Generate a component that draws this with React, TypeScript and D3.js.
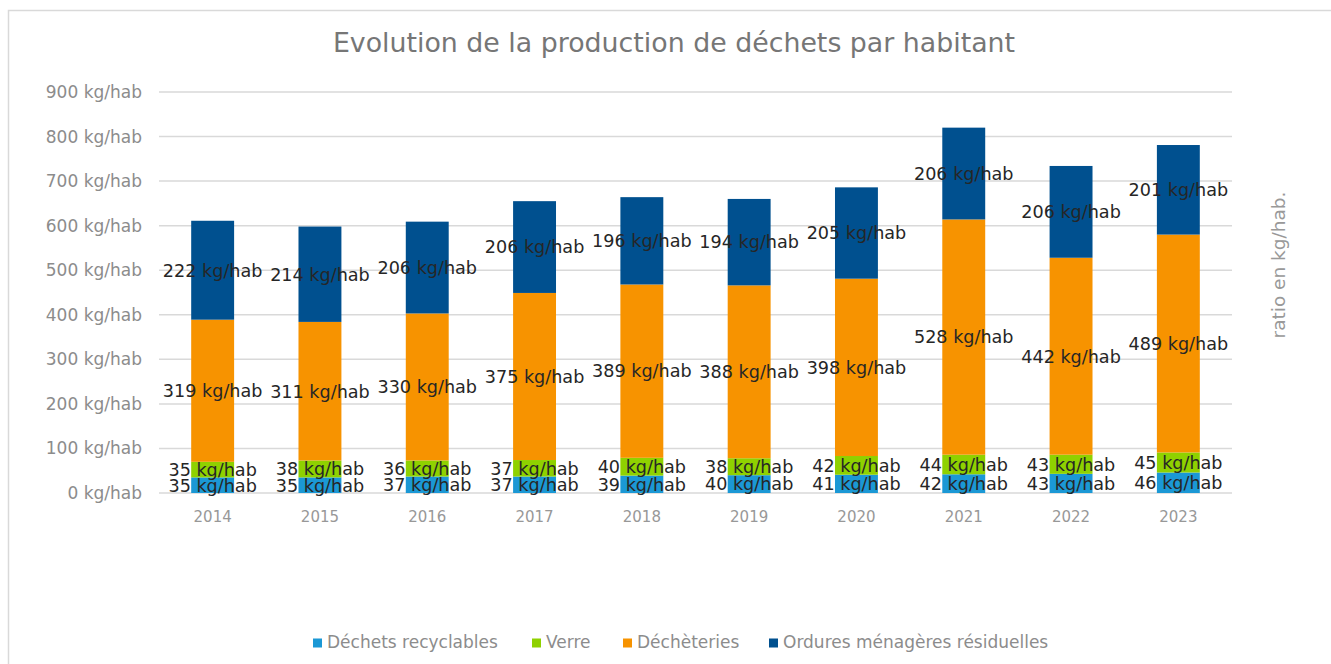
import * as d3 from "d3";

const years = ["2014", "2015", "2016", "2017", "2018", "2019", "2020", "2021", "2022", "2023"];
const recyclables = [35, 35, 37, 37, 39, 40, 41, 42, 43, 46];
const verre = [35, 38, 36, 37, 40, 38, 42, 44, 43, 45];
const decheteries = [319, 311, 330, 375, 389, 388, 398, 528, 442, 489];
const omr = [222, 214, 206, 206, 196, 194, 205, 206, 206, 201];
const yTicks = [0, 100, 200, 300, 400, 500, 600, 700, 800, 900];

const seriesNames = ["Déchets recyclables", "Verre", "Déchèteries", "Ordures ménagères résiduelles"];
const colors = ["#1b98d5", "#8fd100", "#f79300", "#00508f"];

const W = 1331;
const H = 664;
const font = "'DejaVu Sans', sans-serif";

export default function App() {
  const x = d3.scaleBand().domain(years).range([159, 1232]).paddingInner(0.6).paddingOuter(0.3);
  const y = d3.scaleLinear().domain([0, 900]).range([493, 92]);

  const rows = years.map((yr, i) => ({
    year: yr,
    s0: recyclables[i],
    s1: verre[i],
    s2: decheteries[i],
    s3: omr[i],
  }));
  const stack = d3.stack<any>().keys(["s0", "s1", "s2", "s3"]);
  const layers = stack(rows);

  // legend square positions
  const legendX = [313, 532, 623, 769];

  return (
    <svg width={W} height={H} style={{ position: "absolute", left: 0, top: 0, background: "#fff" }}>
      <rect x={8.5} y={10.5} width={1400} height={700} fill="#fff" stroke="#d9d9d9" strokeWidth={1.5} />
      <text x={674} y={52} textAnchor="middle" fontFamily={font} fontSize={26.8} fill="#767676">
        Evolution de la production de déchets par habitant
      </text>

      {yTicks.map((t) => (
        <g key={t}>
          <line x1={159} x2={1232} y1={y(t)} y2={y(t)} stroke="#d9d9d9" strokeWidth={1.5} />
          <text x={142} y={y(t)} dy="0.35em" textAnchor="end" fontFamily={font} fontSize={17} fill="#8c8c8c">
            {t} kg/hab
          </text>
        </g>
      ))}

      {layers.map((layer, li) => (
        <g key={li} fill={colors[li]}>
          {layer.map((d) => (
            <rect
              key={d.data.year}
              x={x(d.data.year)}
              width={x.bandwidth()}
              y={y(d[1])}
              height={y(d[0]) - y(d[1])}
            />
          ))}
        </g>
      ))}

      {layers.map((layer, li) => (
        <g key={"l" + li}>
          {layer.map((d) => (
            <text
              key={d.data.year}
              x={(x(d.data.year) as number) + x.bandwidth() / 2}
              y={y((d[0] + d[1]) / 2)}
              dy="0.36em"
              textAnchor="middle"
              fontFamily={font}
              fontSize={17.6}
              fill="#262626"
            >
              {d[1] - d[0]} kg/hab
            </text>
          ))}
        </g>
      ))}

      {years.map((yr) => (
        <text
          key={yr}
          x={(x(yr) as number) + x.bandwidth() / 2}
          y={522}
          textAnchor="middle"
          fontFamily={font}
          fontSize={15}
          fill="#989898"
        >
          {yr}
        </text>
      ))}

      <text
        transform={`translate(1285,265) rotate(-90)`}
        textAnchor="middle"
        fontFamily={font}
        fontSize={18.5}
        fill="#999"
      >
        ratio en kg/hab.
      </text>

      {seriesNames.map((n, i) => (
        <g key={n}>
          <rect x={legendX[i]} y={638.5} width={9} height={9} fill={colors[i]} />
          <text x={legendX[i] + 14} y={648} fontFamily={font} fontSize={17} fill="#8c8c8c">
            {n}
          </text>
        </g>
      ))}
    </svg>
  );
}
